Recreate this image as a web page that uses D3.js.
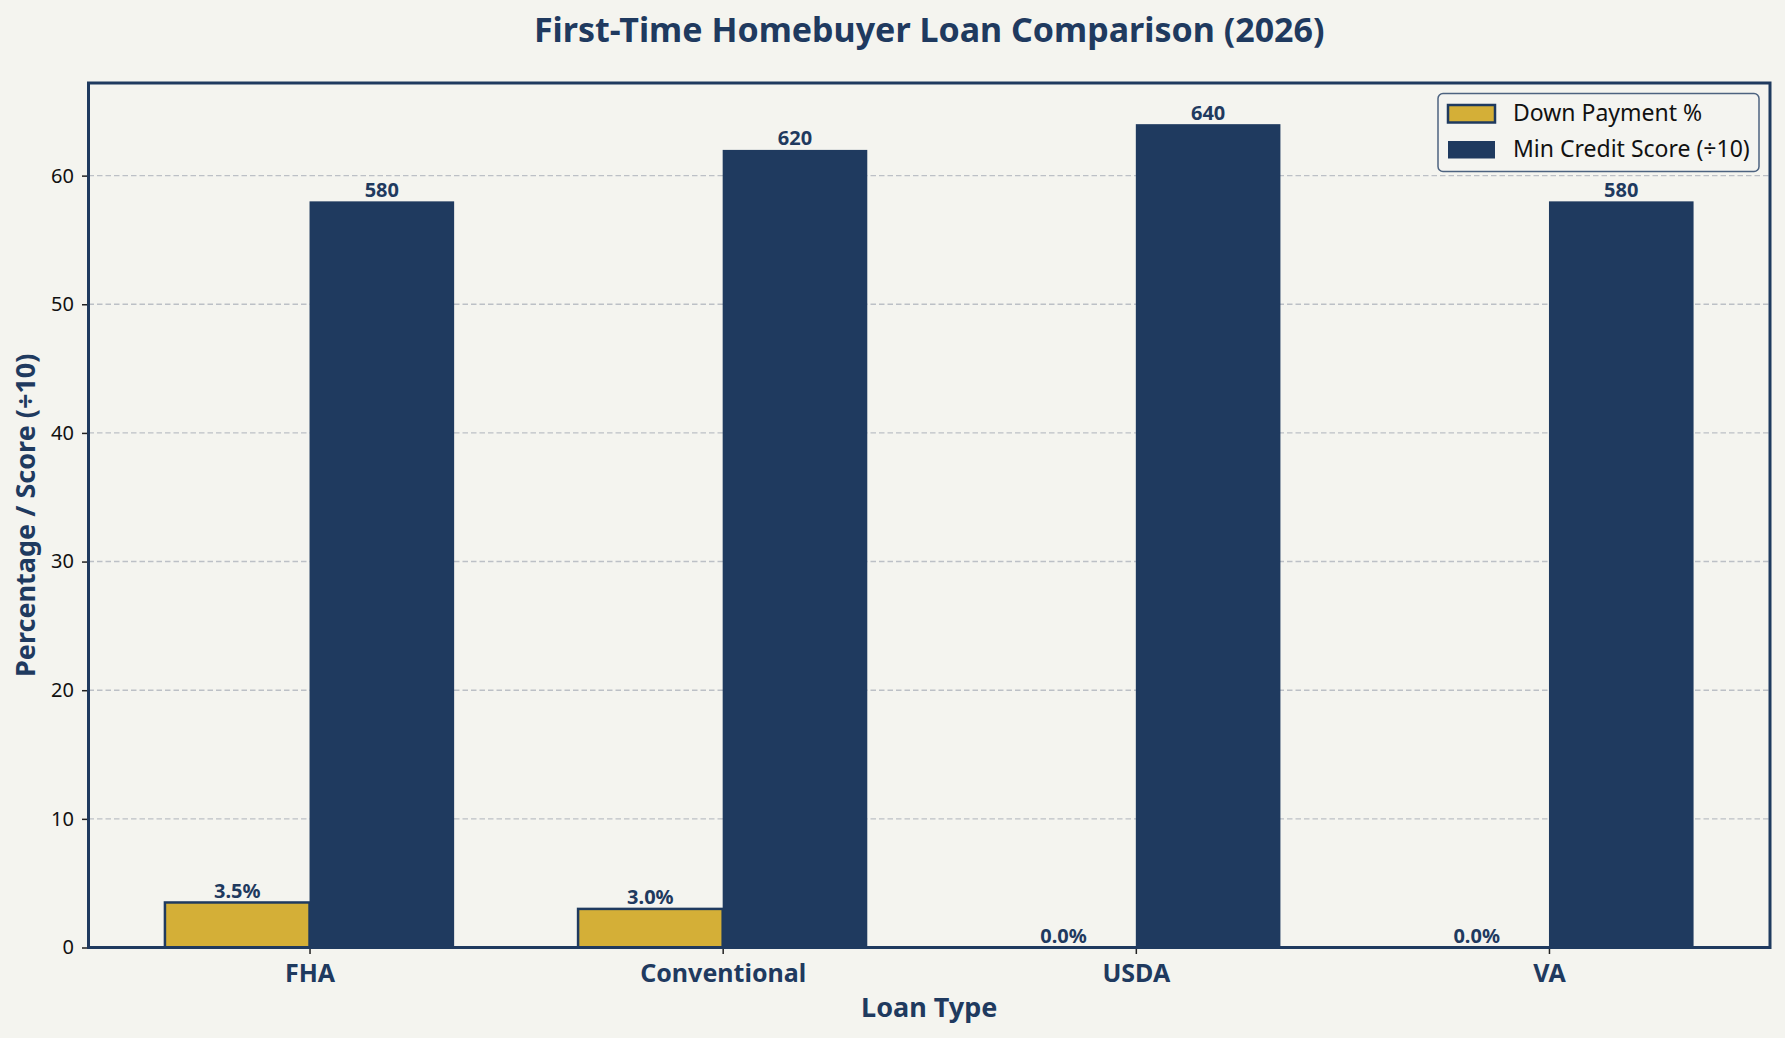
<!DOCTYPE html>
<html>
<head>
<meta charset="utf-8">
<script src="https://cdn.jsdelivr.net/npm/d3@7"></script>
<style>
  body { margin: 0; background: #f4f4ef; }
  svg { display: block; font-family: "Noto Sans", "Open Sans", sans-serif; }
</style>
</head>
<body>
<div id="chart"></div>
<script>
// data
const loanTypes = ["FHA", "Conventional", "USDA", "VA"];
const downPayment = [3.5, 3.0, 0.0, 0.0];
const minCreditScore = [580, 620, 640, 580];
const yTicks = [0, 10, 20, 30, 40, 50, 60];

const navy = "#1f3a5f";
const gold = "#d4af37";

const W = 1785, H = 1038;
const margin = {top: 83, right: 15, bottom: 90.5, left: 88.5};
const width = W - margin.left - margin.right;
const height = H - margin.top - margin.bottom;
const barW = 0.35;

const svg = d3.select("#chart").append("svg")
    .attr("width", W)
    .attr("height", H);

svg.append("rect").attr("width", W).attr("height", H).attr("fill", "#f4f4ef");

const g = svg.append("g")
    .attr("transform", "translate(" + margin.left + "," + margin.top + ")");

// scales (matplotlib-like margins)
const x = d3.scaleLinear()
    .domain([-0.535, loanTypes.length - 1 + 0.535])
    .range([0, width]);

const yMax = d3.max(minCreditScore, d => d / 10) * 1.05;
const y = d3.scaleLinear()
    .domain([0, yMax])
    .range([height, 0]);

// grid
g.append("g")
    .selectAll("line")
    .data(yTicks.slice(1))
    .join("line")
    .attr("x1", 0).attr("x2", width)
    .attr("y1", d => y(d)).attr("y2", d => y(d))
    .attr("stroke", "#bcc0c6")
    .attr("stroke-width", 1.4)
    .attr("stroke-dasharray", "5.5,3");

// gold bars
g.append("g")
    .selectAll("rect")
    .data(downPayment)
    .join("rect")
    .attr("x", (d, i) => x(i - barW))
    .attr("width", x(barW) - x(0))
    .attr("y", d => y(d))
    .attr("height", d => y(0) - y(d))
    .attr("fill", gold)
    .attr("stroke", d => d > 0 ? navy : "none")
    .attr("stroke-width", 2.5);

// navy bars
g.append("g")
    .selectAll("rect")
    .data(minCreditScore)
    .join("rect")
    .attr("x", (d, i) => x(i))
    .attr("width", x(barW) - x(0))
    .attr("y", d => y(d / 10))
    .attr("height", d => y(0) - y(d / 10))
    .attr("fill", navy);

// value labels
g.append("g")
    .selectAll("text")
    .data(downPayment)
    .join("text")
    .attr("x", (d, i) => x(i - barW / 2))
    .attr("y", d => y(d) - 4.5)
    .attr("text-anchor", "middle")
    .attr("font-size", 20)
    .attr("font-weight", "bold")
    .attr("fill", navy)
    .text(d => d.toFixed(1) + "%");

g.append("g")
    .selectAll("text")
    .data(minCreditScore)
    .join("text")
    .attr("x", (d, i) => x(i + barW / 2))
    .attr("y", d => y(d / 10) - 4.5)
    .attr("text-anchor", "middle")
    .attr("font-size", 20)
    .attr("font-weight", "bold")
    .attr("fill", navy)
    .text(d => d);

// axes
const yAxis = g.append("g")
    .call(d3.axisLeft(y).tickValues(yTicks).tickSize(6.5).tickPadding(8));
yAxis.select(".domain").remove();
yAxis.selectAll(".tick line").attr("stroke", "#222").attr("stroke-width", 1.5);
yAxis.selectAll(".tick text")
    .attr("font-size", 20)
    .attr("font-family", "Noto Sans")
    .attr("fill", "#111");

const xAxis = g.append("g")
    .attr("transform", "translate(0," + height + ")")
    .call(d3.axisBottom(x).tickValues(d3.range(loanTypes.length))
        .tickFormat(i => loanTypes[i]).tickSize(6.5).tickPadding(10));
xAxis.select(".domain").remove();
xAxis.selectAll(".tick line").attr("stroke", "#222").attr("stroke-width", 1.5);
xAxis.selectAll(".tick text")
    .attr("font-size", 25)
    .attr("font-weight", "bold")
    .attr("font-family", "Noto Sans")
    .attr("fill", navy);

// frame
g.append("rect")
    .attr("width", width).attr("height", height)
    .attr("fill", "none")
    .attr("stroke", navy)
    .attr("stroke-width", 3);

// titles
svg.append("text")
    .attr("x", margin.left + width / 2)
    .attr("y", 41.5)
    .attr("text-anchor", "middle")
    .attr("font-size", 34)
    .attr("font-weight", "bold")
    .attr("fill", navy)
    .text("First-Time Homebuyer Loan Comparison (2026)");

svg.append("text")
    .attr("x", margin.left + width / 2)
    .attr("y", 1017)
    .attr("text-anchor", "middle")
    .attr("font-size", 27)
    .attr("font-weight", "bold")
    .attr("fill", navy)
    .text("Loan Type");

svg.append("text")
    .attr("transform", "translate(35," + (margin.top + height / 2) + ") rotate(-90)")
    .attr("text-anchor", "middle")
    .attr("font-size", 27)
    .attr("font-weight", "bold")
    .attr("fill", navy)
    .text("Percentage / Score (÷10)");

// legend
const legend = svg.append("g").attr("transform", "translate(1438,93.5)");
legend.append("rect")
    .attr("width", 321).attr("height", 78)
    .attr("rx", 5)
    .attr("fill", "#f4f4ef")
    .attr("fill-opacity", 0.9)
    .attr("stroke", "#4d6380")
    .attr("stroke-width", 1.5);

const legendItems = [
    {label: "Down Payment %", fill: gold, stroke: navy},
    {label: "Min Credit Score (÷10)", fill: navy, stroke: "none"}
];
const li = legend.selectAll(".item")
    .data(legendItems)
    .join("g")
    .attr("class", "item")
    .attr("transform", (d, i) => "translate(0," + (i * 36) + ")");
li.append("rect")
    .attr("x", 10).attr("y", 11.5)
    .attr("width", 47).attr("height", 17.5)
    .attr("fill", d => d.fill)
    .attr("stroke", d => d.stroke)
    .attr("stroke-width", 2.5);
li.append("text")
    .attr("x", 75).attr("y", 27.5)
    .attr("font-size", 23)
    .attr("fill", "#111")
    .text(d => d.label);
</script>
</body>
</html>
